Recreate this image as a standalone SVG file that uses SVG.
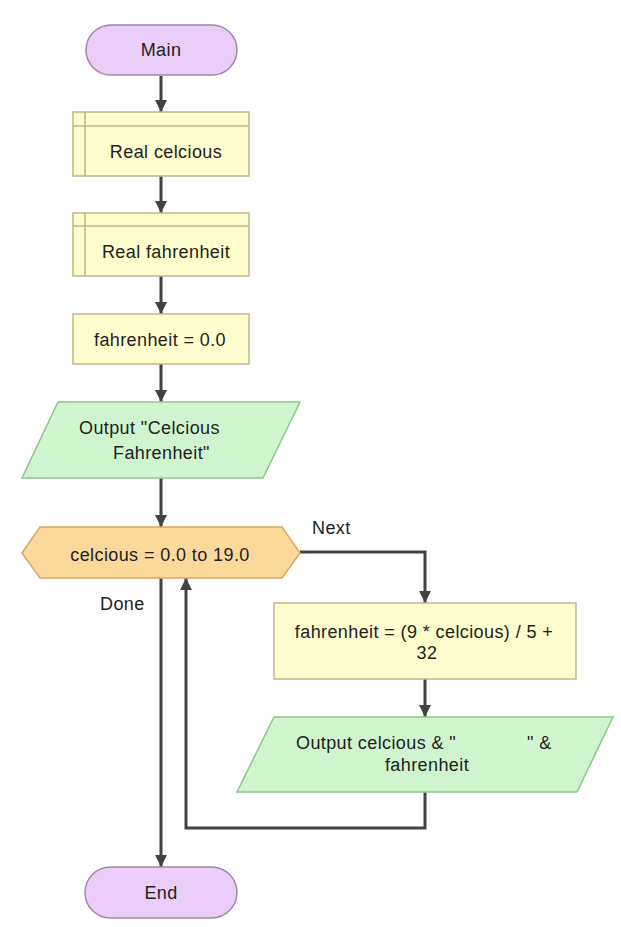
<svg xmlns="http://www.w3.org/2000/svg" width="621" height="927" viewBox="0 0 621 927">
<style>
.t{font-family:"Liberation Sans",Arial,sans-serif;font-size:18px;letter-spacing:0.4px;fill:#1e1e1e}
.m{text-anchor:middle}
.term{fill:#ebcdf9;stroke:#9d88a8;stroke-width:1.5}
.proc{fill:#fffccd;stroke:#bdb88c;stroke-width:1.5}
.io{fill:#cff5cf;stroke:#92c292;stroke-width:1.5}
.dec{fill:#fdd89b;stroke:#d6a862;stroke-width:1.5}
.c{fill:none;stroke:#424242;stroke-width:3}
</style>
<defs>
<marker id="ah" markerUnits="userSpaceOnUse" markerWidth="12" markerHeight="12" refX="12" refY="6" orient="auto">
<path d="M0,0 L12,6 L0,12 z" fill="#424242"/>
</marker>
</defs>
<rect width="621" height="927" fill="#ffffff"/>
<g id="connectors">
<path class="c" d="M161,76 V112" marker-end="url(#ah)"/>
<path class="c" d="M161,176 V213" marker-end="url(#ah)"/>
<path class="c" d="M161,276 V314" marker-end="url(#ah)"/>
<path class="c" d="M161,364 V402" marker-end="url(#ah)"/>
<path class="c" d="M161,478 V527" marker-end="url(#ah)"/>
<path class="c" d="M300,552 H425 V603" marker-end="url(#ah)"/>
<path class="c" d="M425,679 V717" marker-end="url(#ah)"/>
<path class="c" d="M425,792 V828 H186 V578" marker-end="url(#ah)"/>
<path class="c" d="M161,578 V867" marker-end="url(#ah)"/>
<text class="t" x="312" y="534">Next</text>
<text class="t" x="100" y="610">Done</text>
</g>
<g id="main">
<rect class="term" x="86" y="25" width="151" height="50" rx="25"/>
<text class="t m" x="161" y="56">Main</text>
</g>
<g id="real-celcious">
<rect class="proc" x="73" y="112" width="176" height="64"/>
<path class="proc" d="M73,126 H249 M85,112 V176" fill="none"/>
<text class="t m" x="166" y="158">Real celcious</text>
</g>
<g id="real-fahrenheit">
<rect class="proc" x="73" y="213" width="176" height="63"/>
<path class="proc" d="M73,226 H249 M85,213 V276" fill="none"/>
<text class="t m" x="166" y="258">Real fahrenheit</text>
</g>
<g id="assign-fahrenheit">
<rect class="proc" x="73" y="314" width="176" height="50"/>
<text class="t m" x="160" y="346">fahrenheit = 0.0</text>
</g>
<g id="output-header">
<polygon class="io" points="58,402 300,402 263,478 22,478"/>
<text class="t" x="79" y="434">Output "Celcious</text>
<text class="t" x="113" y="459">Fahrenheit"</text>
</g>
<g id="loop">
<polygon class="dec" points="22,553 40,527 282,527 300,553 282,578 40,578"/>
<text class="t m" x="160" y="561">celcious = 0.0 to 19.0</text>
</g>
<g id="compute">
<rect class="proc" x="274" y="603" width="302" height="76"/>
<text class="t m" x="424" y="638">fahrenheit = (9 * celcious) / 5 +</text>
<text class="t m" x="427" y="659">32</text>
</g>
<g id="output-row">
<polygon class="io" points="274,717 613,717 577,792 237,792"/>
<text class="t" x="296" y="749">Output celcious &amp; "<tspan x="527">" &amp;</tspan></text>
<text class="t m" x="427" y="771">fahrenheit</text>
</g>
<g id="end">
<rect class="term" x="85" y="867" width="152" height="51" rx="25.5"/>
<text class="t m" x="161" y="899">End</text>
</g>
</svg>
